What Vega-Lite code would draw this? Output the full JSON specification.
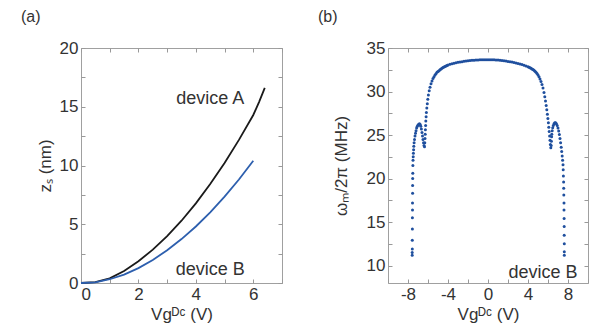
{
  "$schema": "https://vega.github.io/schema/vega-lite/v6.json",
  "padding": {"left": 20, "top": 8, "right": 0, "bottom": 0},
  "background": "white",
  "spacing": 34,
  "config": {
    "font": "Liberation Sans",
    "view": {"stroke": "#a0a0a0", "strokeWidth": 1},
    "axis": {
      "labelFont": "Liberation Sans", "labelFontSize": 17, "labelColor": "#333",
      "titleFont": "Liberation Sans", "titleFontSize": 17, "titleColor": "#333", "titleFontWeight": "normal",
      "domain": false, "grid": false, "tickColor": "#999", "tickSize": -4, "labelPadding": 7
    },
    "title": {"font": "Liberation Sans", "fontSize": 16, "fontWeight": "normal", "color": "#333", "anchor": "start", "frame": "group"}
  },
  "hconcat": [
    {
      "width": 201, "height": 235,
      "title": {"text": "(a)", "dx": -60, "offset": 14},
      "layer": [
        {
          "data": {"values": [
            {"s":"A","V":0,"z":0},{"s":"A","V":0.5,"z":0.08},{"s":"A","V":1,"z":0.4},{"s":"A","V":1.5,"z":1.02},{"s":"A","V":2,"z":1.85},{"s":"A","V":2.5,"z":2.84},{"s":"A","V":3,"z":3.99},{"s":"A","V":3.5,"z":5.3},{"s":"A","V":4,"z":6.78},{"s":"A","V":4.5,"z":8.42},{"s":"A","V":5,"z":10.22},{"s":"A","V":5.5,"z":12.18},{"s":"A","V":6,"z":14.3},{"s":"A","V":6.2,"z":15.4},{"s":"A","V":6.4,"z":16.6},
            {"s":"B","V":0,"z":0},{"s":"B","V":0.5,"z":0.06},{"s":"B","V":1,"z":0.32},{"s":"B","V":1.5,"z":0.72},{"s":"B","V":2,"z":1.27},{"s":"B","V":2.5,"z":1.96},{"s":"B","V":3,"z":2.79},{"s":"B","V":3.5,"z":3.74},{"s":"B","V":4,"z":4.81},{"s":"B","V":4.5,"z":6.02},{"s":"B","V":5,"z":7.35},{"s":"B","V":5.5,"z":8.81},{"s":"B","V":6,"z":10.4}
          ]},
          "mark": {"type": "line", "strokeWidth": 1.8},
          "encoding": {
            "x": {"field": "V", "type": "quantitative", "scale": {"domain": [0, 7], "nice": false},
                  "axis": {"orient": "bottom", "values": [0,1,2,3,4,5,6,7], "labelExpr": "datum.value % 2 === 0 ? '' + datum.value : ''", "title": "Vgᴰᶜ (V)", "titlePadding": 4}},
            "y": {"field": "z", "type": "quantitative", "scale": {"domain": [0, 20], "nice": false},
                  "axis": {"orient": "left", "values": [0,2.5,5,7.5,10,12.5,15,17.5,20], "labelExpr": "datum.value % 5 === 0 ? '' + datum.value : ''", "title": "zₛ (nm)", "titlePadding": 5}},
            "color": {"field": "s", "type": "nominal", "scale": {"domain": ["A","B"], "range": ["#1a1a1a", "#2d5fae"]}, "legend": null}
          }
        },
        {
          "data": {"values": [
            {"tx": 4.5, "ty": 15.7, "label": "device A"},
            {"tx": 4.5, "ty": 1.1, "label": "device B"}
          ]},
          "mark": {"type": "text", "fontSize": 18, "color": "#333", "font": "Liberation Sans", "align": "center", "baseline": "middle"},
          "encoding": {
            "x": {"field": "tx", "type": "quantitative", "axis": {"orient": "top", "values": [0,1,2,3,4,5,6,7], "labels": false, "title": null}},
            "y": {"field": "ty", "type": "quantitative", "axis": {"orient": "right", "values": [0,2.5,5,7.5,10,12.5,15,17.5,20], "labels": false, "title": null}},
            "text": {"field": "label"}
          }
        }
      ],
      "resolve": {"axis": {"x": "independent", "y": "independent"}}
    },
    {
      "width": 200, "height": 235,
      "title": {"text": "(b)", "dx": -70, "offset": 14},
      "layer": [
        {
          "data": {"values": [
            {"V":-7.58,"f":11.2},{"V":-7.58,"f":11.5},{"V":-7.57,"f":11.9},{"V":-7.57,"f":12.9},{"V":-7.56,"f":14.2},{"V":-7.56,"f":15.5},{"V":-7.55,"f":16.4},{"V":-7.55,"f":17.2},{"V":-7.54,"f":18.3},{"V":-7.54,"f":19.2},{"V":-7.53,"f":20.0},{"V":-7.52,"f":20.6},{"V":-7.51,"f":21.5},{"V":-7.5,"f":22.1},{"V":-7.48,"f":22.5},{"V":-7.46,"f":22.9},{"V":-7.44,"f":23.3},{"V":-7.42,"f":23.7},{"V":-7.39,"f":24.1},{"V":-7.35,"f":24.5},{"V":-7.3,"f":24.9},{"V":-7.25,"f":25.2},{"V":-7.2,"f":25.5},{"V":-7.14,"f":25.8},{"V":-7.07,"f":26.0},{"V":-7.0,"f":26.15},{"V":-6.92,"f":26.25},{"V":-6.85,"f":26.3},{"V":-6.78,"f":26.2},{"V":-6.72,"f":26.0},{"V":-6.66,"f":25.7},{"V":-6.6,"f":25.3},{"V":-6.55,"f":24.9},{"V":-6.5,"f":24.5},{"V":-6.45,"f":24.1},{"V":-6.4,"f":23.8},{"V":-6.35,"f":23.65},
            {"V":-6.32,"f":24.1},{"V":-6.3,"f":24.6},{"V":-6.28,"f":25.1},{"V":-6.26,"f":25.6},{"V":-6.24,"f":26.1},{"V":-6.22,"f":26.6},{"V":-6.19,"f":27.1},{"V":-6.16,"f":27.6},{"V":-6.12,"f":28.1},{"V":-6.07,"f":28.6},{"V":-6.02,"f":29.1},{"V":-5.96,"f":29.6},{"V":-5.88,"f":30.1},{"V":-5.8,"f":30.5},{"V":-5.7,"f":30.9},{"V":-5.6,"f":31.2},{"V":-5.5,"f":31.5},{"V":-5.4,"f":31.7},{"V":-5.3,"f":31.9},{"V":-5.2,"f":32.05},{"V":-5.1,"f":32.2},{"V":-5.0,"f":32.3},{"V":-4.9,"f":32.4},{"V":-4.8,"f":32.5},{"V":-4.7,"f":32.6},{"V":-4.6,"f":32.68},{"V":-4.5,"f":32.75},{"V":-4.4,"f":32.82},{"V":-4.3,"f":32.88},{"V":-4.2,"f":32.94},{"V":-4.1,"f":33.0},{"V":-4.0,"f":33.05},
            {"V":-3.8,"f":33.12},{"V":-3.6,"f":33.18},{"V":-3.4,"f":33.24},{"V":-3.2,"f":33.3},{"V":-3.0,"f":33.35},{"V":-2.8,"f":33.39},{"V":-2.6,"f":33.43},{"V":-2.4,"f":33.47},{"V":-2.2,"f":33.5},{"V":-2.0,"f":33.53},{"V":-1.8,"f":33.56},{"V":-1.6,"f":33.58},{"V":-1.4,"f":33.6},{"V":-1.2,"f":33.62},{"V":-1.0,"f":33.63},{"V":-0.8,"f":33.64},{"V":-0.6,"f":33.65},{"V":-0.4,"f":33.66},{"V":-0.2,"f":33.66},{"V":0,"f":33.66},
            {"V":0.2,"f":33.66},{"V":0.4,"f":33.65},{"V":0.6,"f":33.64},{"V":0.8,"f":33.63},{"V":1.0,"f":33.61},{"V":1.2,"f":33.59},{"V":1.4,"f":33.56},{"V":1.6,"f":33.53},{"V":1.8,"f":33.5},{"V":2.0,"f":33.46},{"V":2.2,"f":33.42},{"V":2.4,"f":33.38},{"V":2.6,"f":33.33},{"V":2.8,"f":33.28},{"V":3.0,"f":33.22},{"V":3.2,"f":33.16},{"V":3.4,"f":33.09},{"V":3.6,"f":33.02},{"V":3.8,"f":32.94},{"V":4.0,"f":32.85},
            {"V":4.1,"f":32.8},{"V":4.2,"f":32.74},{"V":4.3,"f":32.67},{"V":4.4,"f":32.6},{"V":4.5,"f":32.52},{"V":4.6,"f":32.43},{"V":4.7,"f":32.33},{"V":4.8,"f":32.2},{"V":4.9,"f":32.06},{"V":5.0,"f":31.9},{"V":5.1,"f":31.7},{"V":5.2,"f":31.45},{"V":5.3,"f":31.15},{"V":5.4,"f":30.8},{"V":5.5,"f":30.4},{"V":5.6,"f":29.9},{"V":5.68,"f":29.4},{"V":5.75,"f":28.9},{"V":5.82,"f":28.4},{"V":5.88,"f":27.9},{"V":5.94,"f":27.4},{"V":5.99,"f":26.9},{"V":6.04,"f":26.4},{"V":6.08,"f":25.9},{"V":6.12,"f":25.4},{"V":6.16,"f":24.9},{"V":6.2,"f":24.4},{"V":6.24,"f":23.9},{"V":6.28,"f":23.55},
            {"V":6.32,"f":23.8},{"V":6.34,"f":24.3},{"V":6.36,"f":24.8},{"V":6.38,"f":25.1},{"V":6.42,"f":25.5},{"V":6.47,"f":25.85},{"V":6.53,"f":26.1},{"V":6.6,"f":26.3},{"V":6.68,"f":26.4},{"V":6.76,"f":26.4},{"V":6.84,"f":26.3},{"V":6.92,"f":26.1},{"V":7.0,"f":25.8},{"V":7.07,"f":25.45},{"V":7.14,"f":25.05},{"V":7.2,"f":24.6},{"V":7.26,"f":24.1},{"V":7.32,"f":23.6},{"V":7.37,"f":23.1},{"V":7.42,"f":22.6},{"V":7.46,"f":22.1},{"V":7.5,"f":21.6},{"V":7.52,"f":21.0},{"V":7.54,"f":20.3},{"V":7.56,"f":19.6},{"V":7.57,"f":18.9},{"V":7.58,"f":18.1},{"V":7.6,"f":17.2},{"V":7.6,"f":16.4},{"V":7.61,"f":15.4},{"V":7.62,"f":14.5},{"V":7.62,"f":13.5},{"V":7.63,"f":12.5},{"V":7.63,"f":11.6},{"V":7.63,"f":11.2}
          ]},
          "mark": {"type": "point", "filled": true, "size": 9, "opacity": 1, "color": "#1f4f9e"},
          "encoding": {
            "x": {"field": "V", "type": "quantitative", "scale": {"domain": [-10, 10], "nice": false},
                  "axis": {"orient": "bottom", "values": [-10,-8,-6,-4,-2,0,2,4,6,8,10], "labelExpr": "datum.value % 4 === 0 && abs(datum.value) < 10 ? '' + datum.value : ''", "title": "Vgᴰᶜ (V)", "titlePadding": 4}},
            "y": {"field": "f", "type": "quantitative", "scale": {"domain": [8, 35], "nice": false, "zero": false},
                  "axis": {"orient": "left", "values": [10,12.5,15,17.5,20,22.5,25,27.5,30,32.5,35], "labelExpr": "datum.value % 5 === 0 ? '' + datum.value : ''", "title": "ωₘ/2π (MHz)", "titlePadding": 16}}
          }
        },
        {
          "data": {"values": [{"tx": 5.5, "ty": 9.15, "label": "device B"}]},
          "mark": {"type": "text", "fontSize": 18, "color": "#333", "font": "Liberation Sans", "align": "center", "baseline": "middle"},
          "encoding": {
            "x": {"field": "tx", "type": "quantitative", "axis": {"orient": "top", "values": [-10,-8,-6,-4,-2,0,2,4,6,8,10], "labels": false, "title": null}},
            "y": {"field": "ty", "type": "quantitative", "axis": {"orient": "right", "values": [10,12.5,15,17.5,20,22.5,25,27.5,30,32.5,35], "labels": false, "title": null}},
            "text": {"field": "label"}
          }
        }
      ],
      "resolve": {"axis": {"x": "independent", "y": "independent"}}
    }
  ]
}
